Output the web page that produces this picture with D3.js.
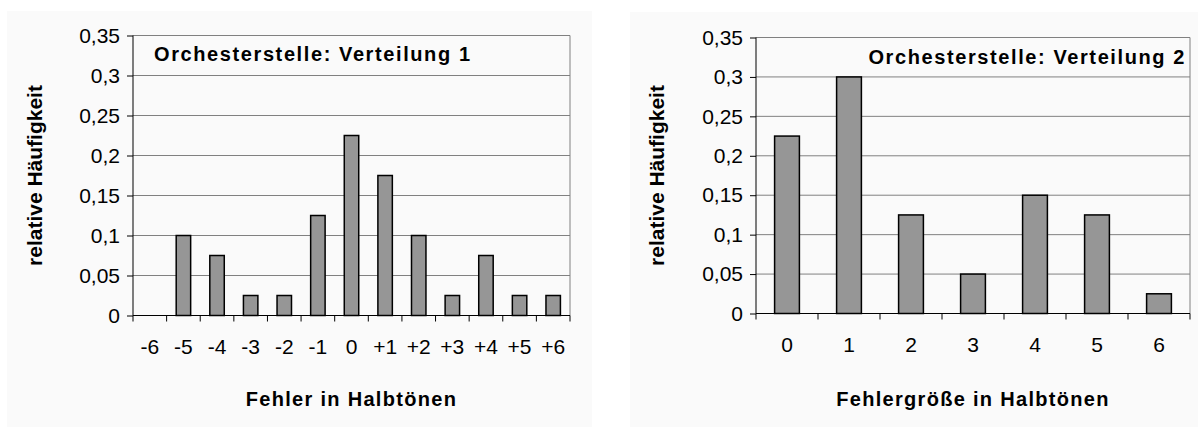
<!DOCTYPE html>
<html>
<head>
<meta charset="utf-8">
<script src="https://cdn.jsdelivr.net/npm/d3@7.9.0/dist/d3.min.js"></script>
<style>
  body { margin: 0; background: #fff; }
  svg { display: block; font-family: "Liberation Sans", Arial, sans-serif; }
</style>
</head>
<body>
<svg width="1198" height="427"></svg>
<script>
// chart 1: signed error
const labels1 = ['-6', '-5', '-4', '-3', '-2', '-1', '0', '+1', '+2', '+3', '+4', '+5', '+6'];
const values1 = [0, 0.1, 0.075, 0.025, 0.025, 0.125, 0.225, 0.175, 0.1, 0.025, 0.075, 0.025, 0.025];

// chart 2: error size
const labels2 = ['0', '1', '2', '3', '4', '5', '6'];
const values2 = [0.225, 0.3, 0.125, 0.05, 0.15, 0.125, 0.025];

const yTicks = [0, 0.05, 0.1, 0.15, 0.2, 0.25, 0.3, 0.35];
const fmt = (d) => String(d).replace('.', ',');

const svg = d3.select('svg');

function drawChart(cfg) {
  const g = svg.append('g');

  // panel background
  g.append('rect')
    .attr('x', cfg.bg[0]).attr('y', cfg.bg[1])
    .attr('width', cfg.bg[2]).attr('height', cfg.bg[3])
    .attr('fill', '#fafafa');

  const x = d3.scaleBand()
    .domain(cfg.labels)
    .range([cfg.left, cfg.right])
    .paddingInner(cfg.pad)
    .paddingOuter(cfg.pad / 2);

  const y = d3.scaleLinear().domain([0, 0.35]).range([cfg.bottom, cfg.top]);

  // gridlines
  g.selectAll('.grid')
    .data(yTicks.slice(1))
    .join('line')
    .attr('x1', cfg.left).attr('x2', cfg.right)
    .attr('y1', (d) => y(d)).attr('y2', (d) => y(d))
    .attr('stroke', '#808080').attr('stroke-width', 1);

  // right border
  g.append('line')
    .attr('x1', cfg.right).attr('x2', cfg.right)
    .attr('y1', cfg.top).attr('y2', cfg.bottom)
    .attr('stroke', '#808080');

  // bars
  g.selectAll('.bar')
    .data(cfg.values)
    .join('rect')
    .attr('x', (d, i) => x(cfg.labels[i]))
    .attr('width', x.bandwidth())
    .attr('y', (d) => y(d))
    .attr('height', (d) => y(0) - y(d))
    .attr('fill', '#969696')
    .attr('stroke', '#000')
    .attr('stroke-width', 1.5)
    .attr('display', (d) => (d > 0 ? null : 'none'));

  // y axis
  const yAxis = g.append('g')
    .attr('transform', `translate(${cfg.left},0)`)
    .call(d3.axisLeft(y).tickValues(yTicks).tickFormat(fmt).tickSize(6).tickPadding(7));
  yAxis.select('.domain').attr('stroke', '#000').attr('d', `M0,${cfg.top}V${cfg.bottom}`);
  yAxis.attr('font-family', null);
  yAxis.selectAll('text').attr('font-size', 21).attr('fill', '#000');

  // x axis: ticks between categories
  const step = x.step();
  const xAxis = g.append('g').attr('transform', `translate(0,${cfg.bottom})`);
  xAxis.append('line')
    .attr('x1', cfg.left).attr('x2', cfg.right)
    .attr('stroke', '#000');
  xAxis.selectAll('.tick')
    .data(d3.range(cfg.labels.length + 1))
    .join('line')
    .attr('x1', (i) => cfg.left + i * step).attr('x2', (i) => cfg.left + i * step)
    .attr('y1', 0).attr('y2', 6)
    .attr('stroke', '#000');
  xAxis.selectAll('.lbl')
    .data(cfg.labels)
    .join('text')
    .attr('x', (d) => x(d) + x.bandwidth() / 2)
    .attr('y', 38)
    .attr('text-anchor', 'middle')
    .attr('font-size', 21)
    .text((d) => d);

  // title inside plot
  g.append('text')
    .attr('x', cfg.titleX).attr('y', cfg.titleY)
    .attr('text-anchor', cfg.titleAnchor)
    .attr('font-size', 20).attr('font-weight', 'bold')
    .attr('letter-spacing', 1.6)
    .text(cfg.title);

  // axis titles
  g.append('text')
    .attr('x', (cfg.left + cfg.right) / 2).attr('y', 406)
    .attr('text-anchor', 'middle')
    .attr('font-size', 20).attr('font-weight', 'bold')
    .attr('letter-spacing', 1.3)
    .text(cfg.xTitle);

  g.append('text')
    .attr('transform', `translate(${cfg.yTitleX},${(cfg.top + cfg.bottom) / 2}) rotate(-90)`)
    .attr('text-anchor', 'middle')
    .attr('font-size', 21).attr('font-weight', 'bold')
    .text('relative Häufigkeit');
}

drawChart({
  labels: labels1, values: values1,
  bg: [7, 11, 585, 416],
  left: 133, right: 570, top: 35.5, bottom: 315.5, pad: 0.57,
  title: 'Orchesterstelle: Verteilung 1', titleX: 154, titleY: 61, titleAnchor: 'start',
  xTitle: 'Fehler in Halbtönen', yTitleX: 42
});

drawChart({
  labels: labels2, values: values2,
  bg: [630, 12, 568, 415],
  left: 756, right: 1190, top: 37.5, bottom: 313.5, pad: 0.6,
  title: 'Orchesterstelle: Verteilung 2', titleX: 1186, titleY: 64, titleAnchor: 'end',
  xTitle: 'Fehlergröße in Halbtönen', yTitleX: 664
});
</script>
</body>
</html>
